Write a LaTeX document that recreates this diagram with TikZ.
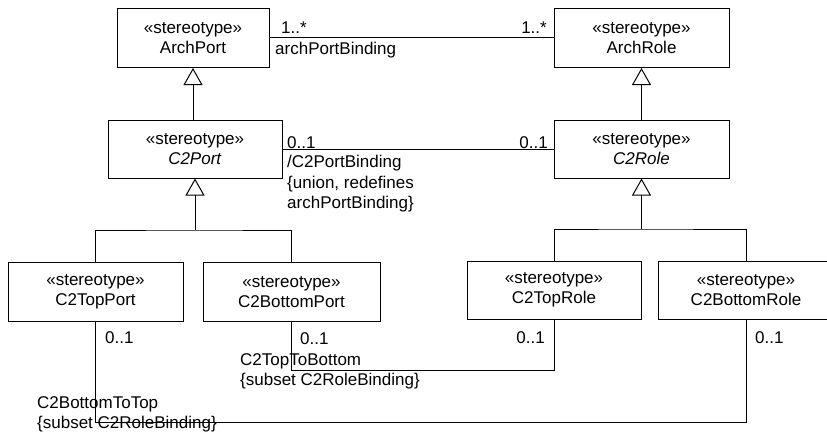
\documentclass[tikz,border=0pt]{standalone}
\usepackage{fontspec}
\setmainfont{Liberation Sans}
\usetikzlibrary{arrows.meta}
\begin{document}
\begin{tikzpicture}[x=1pt,y=-1pt,
  every node/.style={font=\fontsize{17}{20.5}\selectfont, inner sep=0pt},
  cls/.style={draw, line width=1pt, rectangle, align=center, minimum height=59pt},
  lbl/.style={align=left},
  assoc/.style={line width=1pt},
  gen/.style={line width=1pt, -{Triangle[open, length=17pt, width=19pt, line width=1pt]}}]
\useasboundingbox (0,0) rectangle (827,447);

% classes
\node[cls, minimum width=152pt] (archport) at (193,38) {«stereotype»\\ArchPort};
\node[cls, minimum width=175pt] (archrole) at (641.5,38) {«stereotype»\\ArchRole};
\node[cls, minimum width=174pt, minimum height=58pt] (c2port) at (195,149) {«stereotype»\\\textit{C2Port}};
\node[cls, minimum width=175pt, minimum height=58pt] (c2role) at (641.5,149) {«stereotype»\\\textit{C2Role}};
\node[cls, minimum width=175pt] (topport) at (95.5,292) {«stereotype»\\C2TopPort};
\node[cls, minimum width=177pt] (bottomport) at (291.5,292) {«stereotype»\\C2BottomPort};
\node[cls, minimum width=174pt, minimum height=58pt] (toprole) at (554,290) {«stereotype»\\C2TopRole};
\node[cls, minimum width=176pt, minimum height=58pt] (bottomrole) at (746,290) {«stereotype»\\C2BottomRole};

% generalizations
\draw[gen] (c2port.north -| archport.south) -- (archport.south);
\draw[gen] (c2role.north) -- (c2role.north |- archrole.south);
\coordinate (pbar) at (195,230);
\coordinate (rbar) at (641.5,229);
\draw[assoc] (topport.north) |- (pbar) -| (bottomport.north);
\draw[gen] (pbar) -- (c2port.south);
\draw[assoc] (toprole.north) |- (rbar) -| (bottomrole.north);
\draw[gen] (rbar) -- (c2role.south);

% associations
\draw[assoc] (archport.east |- 0,37) -- (archrole.west |- 0,37);
\draw[assoc] (c2port.east) -- (c2role.west);
\coordinate (ttb) at (291.5,370);
\draw[assoc] (bottomport.south) -- (ttb) -| (toprole.south);
\coordinate (btt) at (95.5,422);
\draw[assoc] (topport.south) -- (btt) -| (bottomrole.south);

% association ends
\node[lbl, anchor=west] (m1) at (281,28) {1..*};
\node[lbl, anchor=west] (n1) at (275,50) {archPortBinding};
\node[lbl, anchor=east] (m2) at (547,28) {1..*};
\node[lbl, anchor=west] (m3) at (287,143) {0..1};
\node[lbl, anchor=east] (m4) at (548,143) {0..1};
\node[lbl, anchor=north west] (n2) at (287,155) {/C2PortBinding\\\{union, redefines\\archPortBinding\}};
\node[lbl, anchor=west] (m5) at (105,338) {0..1};
\node[lbl, anchor=west] (m6) at (300,339) {0..1};
\node[lbl, anchor=east] (m7) at (545,338) {0..1};
\node[lbl, anchor=west] (m8) at (755,338) {0..1};
\node[lbl, anchor=north west] (n3) at (240,353) {C2TopToBottom\\\{subset C2RoleBinding\}};
\node[lbl, anchor=north west] (n4) at (37,396) {C2BottomToTop\\\{subset C2RoleBinding\}};
\end{tikzpicture}
\end{document}
